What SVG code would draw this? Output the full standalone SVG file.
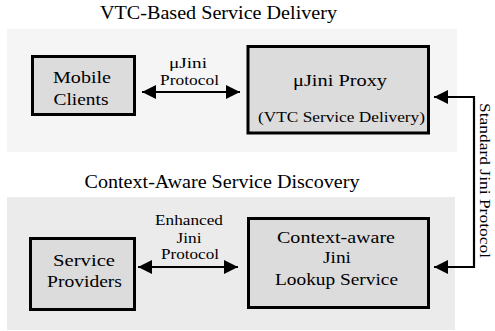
<svg xmlns="http://www.w3.org/2000/svg" width="495" height="331" viewBox="0 0 495 331">
<style>
text{font-family:"Liberation Serif","Times New Roman",Times,serif;font-weight:normal;fill:#000;text-anchor:middle}
.t{font-size:18px}
.n{font-size:17px}
.l{font-size:15px}
.box{fill:#dcdcdc;stroke:#000;stroke-width:3}
.c{stroke:#000;stroke-width:2.2;fill:none}
</style>
<defs>
<marker id="ah" viewBox="0 0 14 14" refX="14" refY="7" markerWidth="14" markerHeight="14" markerUnits="userSpaceOnUse" orient="auto-start-reverse">
<path d="M0,0 L14,7 L0,14 Z" fill="#000"/>
</marker>
</defs>
<rect width="495" height="331" fill="#fff"/>
<g id="panel-top">
<rect x="7" y="29" width="450" height="123" fill="#f5f5f5"/>
<text class="t" x="218.5" y="19" textLength="237" lengthAdjust="spacingAndGlyphs">VTC-Based Service Delivery</text>
</g>
<g id="panel-bottom">
<rect x="7" y="197" width="448" height="133" fill="#ebebeb"/>
<text class="t" x="222" y="188" textLength="275" lengthAdjust="spacingAndGlyphs">Context-Aware Service Discovery</text>
</g>
<g id="mobile-clients">
<rect class="box" x="32.5" y="56.5" width="102" height="58"/>
<text class="n" x="82" y="83" textLength="58" lengthAdjust="spacingAndGlyphs">Mobile</text>
<text class="n" x="81" y="105" textLength="55" lengthAdjust="spacingAndGlyphs">Clients</text>
</g>
<g id="ujini-proxy">
<rect class="box" x="248" y="46.5" width="180.5" height="86.5"/>
<text class="n" x="340" y="86" textLength="94" lengthAdjust="spacingAndGlyphs">μJini Proxy</text>
<text class="l" x="341.5" y="122" textLength="167" lengthAdjust="spacingAndGlyphs">(VTC Service Delivery)</text>
</g>
<g id="service-providers">
<rect class="box" x="30.5" y="238.5" width="104" height="71"/>
<text class="n" x="84" y="266" textLength="62" lengthAdjust="spacingAndGlyphs">Service</text>
<text class="n" x="84.5" y="287" textLength="75" lengthAdjust="spacingAndGlyphs">Providers</text>
</g>
<g id="lookup-service">
<rect class="box" x="248.5" y="218.5" width="180" height="89"/>
<text class="n" x="336" y="243" textLength="118" lengthAdjust="spacingAndGlyphs">Context-aware</text>
<text class="n" x="337" y="263" textLength="28" lengthAdjust="spacingAndGlyphs">Jini</text>
<text class="n" x="336.5" y="285" textLength="123" lengthAdjust="spacingAndGlyphs">Lookup Service</text>
</g>
<g id="connectors">
<line class="c" x1="142" y1="92" x2="240" y2="92" marker-start="url(#ah)" marker-end="url(#ah)"/>
<line class="c" x1="138" y1="267" x2="238" y2="267" marker-start="url(#ah)" marker-end="url(#ah)"/>
<polyline class="c" points="434,97 474,97 474,267 434,267" marker-start="url(#ah)" marker-end="url(#ah)"/>
<text class="l" x="188" y="68" textLength="38" lengthAdjust="spacingAndGlyphs">μJini</text>
<text class="l" x="189.5" y="85" textLength="59" lengthAdjust="spacingAndGlyphs">Protocol</text>
<text class="l" x="189" y="225" textLength="68" lengthAdjust="spacingAndGlyphs">Enhanced</text>
<text class="l" x="189" y="243" textLength="25" lengthAdjust="spacingAndGlyphs">Jini</text>
<text class="l" x="190" y="259" textLength="58" lengthAdjust="spacingAndGlyphs">Protocol</text>
<text class="l" transform="translate(480,180.5) rotate(90)" x="0" y="0" textLength="155" lengthAdjust="spacingAndGlyphs">Standard Jini Protocol</text>
</g>
</svg>
